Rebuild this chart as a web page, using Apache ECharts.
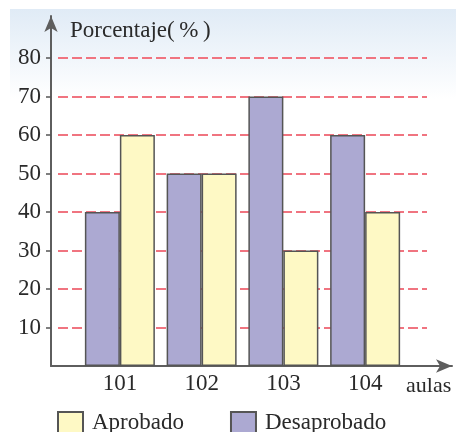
<!DOCTYPE html>
<html>
<head>
<meta charset="utf-8">
<script src="https://cdn.jsdelivr.net/npm/echarts@6/dist/echarts.min.js"></script>
<style>html,body{margin:0;padding:0;background:#fff}#c{width:456px;height:432px}</style>
</head>
<body>
<div id="c"></div>
<script>
var categories = ['101', '102', '103', '104'];
var desaprobado = [40, 50, 70, 60];
var aprobado = [60, 50, 30, 40];
var yTicks = [10, 20, 30, 40, 50, 60, 70, 80];

var FONT = '"Liberation Serif", "DejaVu Serif", serif';
var chart = echarts.init(document.getElementById('c'), null, {renderer: 'canvas'});
chart.setOption({
  backgroundColor: '#ffffff',
  animation: false,
  textStyle: {fontFamily: FONT},
  graphic: [{
    type: 'rect', left: 10, top: 9, z: -10,
    shape: {width: 446, height: 90},
    style: {fill: new echarts.graphic.LinearGradient(0, 0, 0, 1, [
      {offset: 0, color: '#e0ebf6'}, {offset: 1, color: '#ffffff'}])}
  }],
  legend: {
    data: ['Aprobado', 'Desaprobado'],
    left: 52, top: 406,
    itemWidth: 25, itemHeight: 21, itemGap: 46,
    icon: 'rect',
    textStyle: {fontFamily: FONT, fontSize: 23, color: '#2a2a2a', padding: [0, 0, 0, 4]}
  },
  grid: [
    {left: 51, right: 4, top: 16, bottom: 66},
    {left: 58, right: 29, top: 58, bottom: 104.5},
    {left: 79, right: 50, top: 58, bottom: 66}
  ],
  xAxis: [
    {gridIndex: 0, type: 'value', min: 0, max: 1,
     axisLine: {show: true, symbol: ['none', 'arrow'], symbolSize: [10, 16], lineStyle: {color: '#5e5e5e', width: 2}},
     axisTick: {show: false}, axisLabel: {show: false}, splitLine: {show: false}},
    {gridIndex: 1, type: 'value', show: false, min: 0, max: 1},
    {gridIndex: 2, type: 'category', data: categories,
     axisLine: {show: false}, axisTick: {show: false},
     axisLabel: {fontFamily: FONT, fontSize: 23, color: '#2a2a2a', margin: 6},
     name: 'aulas', nameLocation: 'end', nameGap: 0,
     nameTextStyle: {fontFamily: FONT, fontSize: 22, color: '#2a2a2a', align: 'left', verticalAlign: 'top', padding: [9, 0, 0, 0]}}
  ],
  yAxis: [
    {gridIndex: 0, type: 'value', min: 0, max: 90.9,
     axisLine: {show: true, symbol: ['none', 'arrow'], symbolSize: [10, 16], lineStyle: {color: '#5e5e5e', width: 2}},
     axisTick: {show: true, customValues: yTicks, length: 5, lineStyle: {color: '#555', width: 1.5}},
     axisLabel: {customValues: yTicks, fontFamily: FONT, fontSize: 23, color: '#2a2a2a', margin: 10},
     splitLine: {show: false},
     name: 'Porcentaje(\u2009%\u2009)', nameLocation: 'end', nameGap: -15,
     nameTextStyle: {fontFamily: FONT, fontSize: 23, color: '#2a2a2a', align: 'left', verticalAlign: 'middle', padding: [0, 0, 0, 19]}},
    {gridIndex: 1, type: 'value', min: 10, max: 80, interval: 10,
     axisLine: {show: false}, axisTick: {show: false}, axisLabel: {show: false},
     splitLine: {show: true, lineStyle: {color: '#f07480', width: 2, type: [10, 4]}}},
    {gridIndex: 2, type: 'value', min: 0, max: 80, show: false}
  ],
  series: [
    {name: 'Desaprobado', type: 'bar', xAxisIndex: 2, yAxisIndex: 2, data: desaprobado,
     barWidth: 35, barGap: '0%',
     itemStyle: {color: '#aca9d2', borderColor: '#555555', borderWidth: 1.5}},
    {name: 'Aprobado', type: 'bar', xAxisIndex: 2, yAxisIndex: 2, data: aprobado,
     barWidth: 35, barGap: '0%',
     itemStyle: {color: '#fef9c5', borderColor: '#555555', borderWidth: 1.5}}
  ]
});
</script>
</body>
</html>
